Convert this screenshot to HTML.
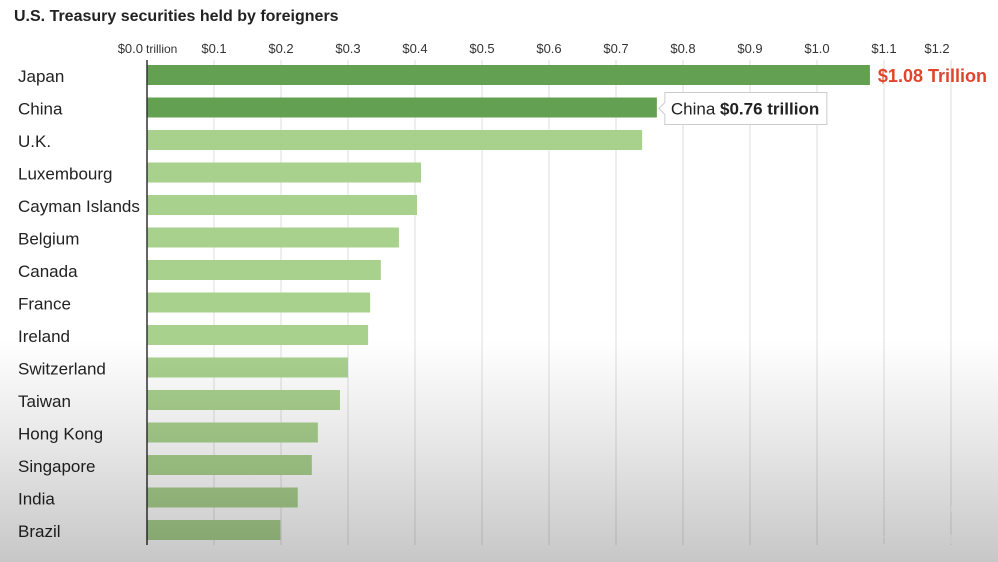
<!DOCTYPE html>
<html><head><meta charset="utf-8"><style>
body{margin:0;width:998px;height:562px;overflow:hidden;background:#fff;font-family:"Liberation Sans",sans-serif;position:relative}
#ov{position:absolute;left:0;top:0;width:998px;height:562px;pointer-events:none;background:linear-gradient(to bottom,rgba(0,0,0,0) 0,rgba(0,0,0,0) 340px,rgba(0,0,0,0.1) 450px,rgba(0,0,0,0.22) 562px)}
</style></head><body>
<svg id="chart" width="998" height="562" style="position:absolute;left:0;top:0"></svg>
<div id="ov"></div>
<script>
const categories=["Japan","China","U.K.","Luxembourg","Cayman Islands","Belgium","Canada","France","Ireland","Switzerland","Taiwan","Hong Kong","Singapore","India","Brazil"];
const values=[1.079,0.761,0.739,0.409,0.403,0.376,0.349,0.333,0.330,0.300,0.288,0.255,0.246,0.225,0.199];
const ticks=[0,0.1,0.2,0.3,0.4,0.5,0.6,0.7,0.8,0.9,1.0,1.1,1.2];
const tickLabels=["$0.0","$0.1","$0.2","$0.3","$0.4","$0.5","$0.6","$0.7","$0.8","$0.9","$1.0","$1.1","$1.2"];
const NS="http://www.w3.org/2000/svg";
const svg=document.getElementById('chart');
const x=v=>147+v*670;
const y=i=>75+i*32.5;
function mk(t,a,txt){const e=document.createElementNS(NS,t);for(const k in a)e.setAttribute(k,a[k]);if(txt!=null)e.textContent=txt;svg.appendChild(e);return e;}
let t=mk('text',{x:14,y:21,'font-size':16,'font-weight':'bold',fill:'#222'},'U.S. Treasury securities held by foreigners');


ticks.forEach((v,i)=>{
  if(i>0){const g=mk('line',{x1:x(v),x2:x(v),y1:60,y2:545,stroke:'#ddd','stroke-width':1});
  
  }
  const lx=i==12?x(v)-14:x(v);
  const l=mk('text',{x:lx,y:53,'font-size':13,fill:'#333','text-anchor':i==0?'end':'middle'},tickLabels[i]);
  if(i==0){l.setAttribute('x',x(v)-4);}
  
  
});
let tr=mk('text',{x:146,y:53,'font-size':12,fill:'#333','text-anchor':'start'},'trillion');


categories.forEach((c,i)=>{
  const b=mk('rect',{x:x(0),y:y(i)-10,width:x(values[i])-x(0),height:20,fill:i<2?'#64a051':'#a9d18e'});
  
  
  const l=mk('text',{x:18,y:y(i)+7,'font-size':17,fill:'#222'},c);
  
  
});
const ax=mk('line',{x1:147,x2:147,y1:60,y2:545,stroke:'#333','stroke-width':1.5});


const jl=mk('text',{x:x(values[0])+8,y:y(0)+7,'font-size':18,'font-weight':'bold',fill:'#e0452b'},'$'+values[0].toFixed(2)+' Trillion');


const cx=x(values[1])+8,cy=y(1)+1;
const tip=mk('path',{d:`M${cx} ${cy-16} H${cx+162} V${cy+16} H${cx} V${cy+6} L${cx-6} ${cy} L${cx} ${cy-6} Z`,fill:'#fff',stroke:'#ccc'});


const tt=mk('text',{x:cx+6,y:cy+6,'font-size':17,fill:'#222'});


const s1=document.createElementNS(NS,'tspan');s1.textContent='China ';tt.appendChild(s1);
const s2=document.createElementNS(NS,'tspan');s2.setAttribute('font-weight','bold');s2.textContent='$'+values[1].toFixed(2)+' trillion';tt.appendChild(s2);
const w1=mk('text',{x:878,y:512,'font-size':12,fill:'#fff',opacity:0.8},'Tiger Community');


const wc=mk('circle',{cx:855,cy:506,r:16,fill:'none',stroke:'#fff','stroke-width':2,opacity:0.8});


const w2=mk('text',{x:845,y:545,'font-size':17,fill:'#fff',opacity:0.9},'@Mickey082024');


</script>
</body></html>
